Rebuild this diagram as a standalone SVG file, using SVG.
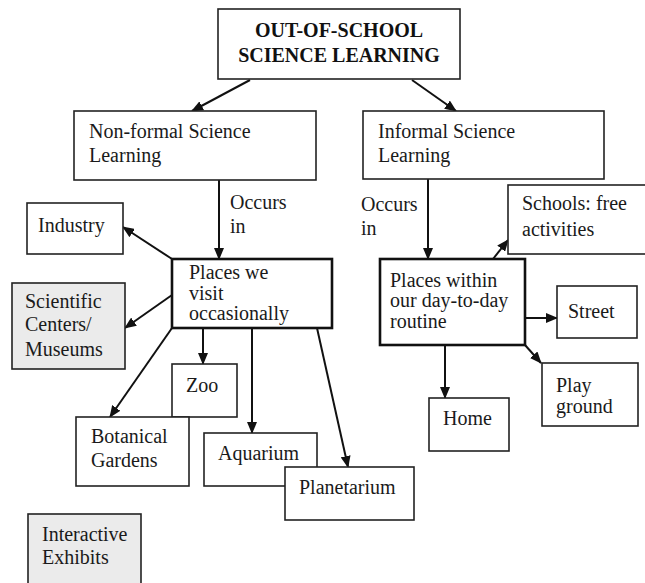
<svg xmlns="http://www.w3.org/2000/svg" width="645" height="583" viewBox="0 0 645 583">
<style>
  .box { fill: #ffffff; stroke: #222; stroke-width: 1.6; }
  .gray { fill: #ebebeb; stroke: #222; stroke-width: 1.6; }
  .bold { fill: #ffffff; stroke: #111; stroke-width: 2.6; }
  .t { font-family: "Liberation Serif", "Times New Roman", serif; font-size: 20px; fill: #1a1a1a; }
  .tb { font-family: "Liberation Serif", "Times New Roman", serif; font-size: 20px; font-weight: bold; fill: #111; text-anchor: middle; }
  .c { stroke: #111; stroke-width: 2; fill: none; marker-end: url(#ah); }
</style>
<defs>
  <marker id="ah" markerWidth="12" markerHeight="10" refX="11" refY="5" orient="auto" markerUnits="userSpaceOnUse">
    <path d="M0,0 L12,5 L0,10 Z" fill="#111"/>
  </marker>
</defs>
<rect width="645" height="583" fill="#ffffff"/>

<g id="connectors">
  <line class="c" x1="250" y1="80" x2="192" y2="111"/>
  <line class="c" x1="412" y1="80" x2="456" y2="111"/>
  <line class="c" x1="219" y1="180" x2="219" y2="259"/>
  <line class="c" x1="428" y1="179" x2="428" y2="259"/>
  <line class="c" x1="172" y1="259" x2="123" y2="227"/>
  <line class="c" x1="172" y1="295" x2="125" y2="328"/>
  <line class="c" x1="172" y1="328" x2="110" y2="417"/>
  <line class="c" x1="203" y1="328" x2="203" y2="364"/>
  <line class="c" x1="252" y1="328" x2="252" y2="433"/>
  <line class="c" x1="317" y1="328" x2="348" y2="467"/>
  <line class="c" x1="493" y1="259" x2="508" y2="240"/>
  <line class="c" x1="525" y1="318" x2="557" y2="318"/>
  <line class="c" x1="525" y1="345" x2="541" y2="363"/>
  <line class="c" x1="445" y1="345" x2="445" y2="398"/>
  <text class="t" x="230" y="209">Occurs</text>
  <text class="t" x="230" y="233">in</text>
  <text class="t" x="361" y="211">Occurs</text>
  <text class="t" x="361" y="235">in</text>
</g>

<g id="title">
  <rect class="box" x="218" y="9" width="242" height="70"/>
  <text class="tb" x="339" y="37">OUT-OF-SCHOOL</text>
  <text class="tb" x="339" y="62">SCIENCE LEARNING</text>
</g>

<g id="nonformal">
  <rect class="box" x="74" y="111" width="242" height="69"/>
  <text class="t" x="89" y="138">Non-formal Science</text>
  <text class="t" x="89" y="162">Learning</text>
</g>

<g id="informal">
  <rect class="box" x="363" y="111" width="241" height="68"/>
  <text class="t" x="378" y="138">Informal Science</text>
  <text class="t" x="378" y="162">Learning</text>
</g>

<g id="industry">
  <rect class="box" x="27" y="203" width="96" height="51"/>
  <text class="t" x="38" y="232">Industry</text>
</g>

<g id="scientific">
  <rect class="gray" x="12" y="283" width="113" height="86"/>
  <text class="t" x="25" y="308">Scientific</text>
  <text class="t" x="25" y="331">Centers/</text>
  <text class="t" x="25" y="356">Museums</text>
</g>

<g id="places-visit">
  <rect class="bold" x="172" y="259" width="160" height="69"/>
  <text class="t" x="189" y="279">Places we</text>
  <text class="t" x="189" y="300">visit</text>
  <text class="t" x="189" y="320">occasionally</text>
</g>

<g id="zoo">
  <rect class="box" x="172" y="364" width="65" height="53"/>
  <text class="t" x="186" y="392">Zoo</text>
</g>

<g id="botanical">
  <rect class="box" x="76" y="417" width="113" height="69"/>
  <text class="t" x="91" y="443">Botanical</text>
  <text class="t" x="91" y="467">Gardens</text>
</g>

<g id="aquarium">
  <rect class="box" x="204" y="433" width="113" height="53"/>
  <text class="t" x="218" y="460">Aquarium</text>
</g>

<g id="planetarium">
  <rect class="box" x="285" y="467" width="129" height="53"/>
  <text class="t" x="299" y="494">Planetarium</text>
</g>

<g id="interactive">
  <rect class="gray" x="28" y="514" width="113" height="72"/>
  <text class="t" x="42" y="541">Interactive</text>
  <text class="t" x="42" y="564">Exhibits</text>
</g>

<g id="places-routine">
  <rect class="bold" x="380" y="259" width="145" height="86"/>
  <text class="t" x="390" y="287">Places within</text>
  <text class="t" x="390" y="307">our day-to-day</text>
  <text class="t" x="390" y="328">routine</text>
</g>

<g id="schools">
  <rect class="box" x="508" y="185" width="140" height="69"/>
  <text class="t" x="522" y="210">Schools: free</text>
  <text class="t" x="522" y="236">activities</text>
</g>

<g id="street">
  <rect class="box" x="557" y="286" width="80" height="52"/>
  <text class="t" x="568" y="318">Street</text>
</g>

<g id="playground">
  <rect class="box" x="542" y="363" width="96" height="63"/>
  <text class="t" x="556" y="392">Play</text>
  <text class="t" x="556" y="413">ground</text>
</g>

<g id="home">
  <rect class="box" x="429" y="398" width="80" height="53"/>
  <text class="t" x="443" y="425">Home</text>
</g>
</svg>
